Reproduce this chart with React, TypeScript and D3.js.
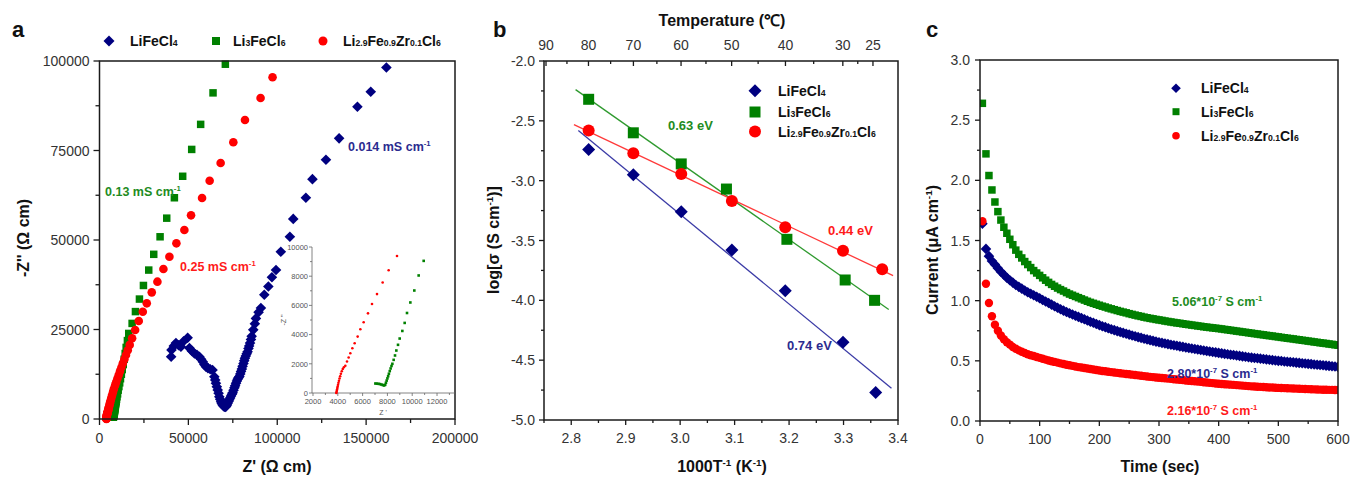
import React from 'react';
import * as d3 from 'd3';

const FONT = "'Liberation Sans', Arial, Helvetica, sans-serif";
const NAVY = '#000080';
const GREEN = '#008000';
const RED = '#ff0000';
const AXIS = '#1a1a1a';
const TICKTXT = '#333333';

// ---- panel a : impedance (Z', -Z'') ----
const eisLiFeCl4: [number, number][] = [
  [40300, 17400], [40500, 19300], [41800, 20400], [43000, 21200], [44500, 20600], [45800, 20200],
  [47300, 21700], [49600, 22700], [50600, 19800], [52000, 19000], [53400, 18300], [54800, 17900],
  [56200, 17400], [57200, 16700], [58100, 16000], [59000, 15200], [59900, 14600], [61000, 14200],
  [62300, 13900], [63600, 13700], [64600, 11800], [65100, 10900], [65500, 10000], [66000, 9000],
  [66500, 8100], [67000, 7200], [67400, 6200], [67900, 5500], [68400, 4800], [68800, 4300],
  [69300, 3900], [69800, 3600], [70300, 3450], [70800, 3400], [71200, 3500], [71700, 3900],
  [72100, 4400], [72600, 4900], [73000, 5400], [73500, 5900], [74000, 6400], [74500, 6900],
  [74900, 7300], [75400, 8000], [75900, 8700], [76300, 9300], [76800, 10000], [77300, 10600],
  [77700, 11100], [78200, 11500], [78700, 11900], [79200, 12600], [79600, 13300], [80100, 14000],
  [80500, 14700], [81000, 15500], [81400, 16300], [81800, 17000], [82300, 17600], [82800, 18200],
  [83300, 18800], [83800, 19700], [84200, 20400], [84700, 21200], [85200, 22200], [85600, 23100],
  [86500, 24900], [87400, 26600], [88000, 28100], [89500, 29800], [90800, 31000], [92700, 34700],
  [95000, 37000], [97000, 39600], [99300, 41600], [102000, 46700], [107100, 50900], [109000, 55900],
  [116100, 61800], [119800, 67000], [127400, 72400], [134800, 78400], [145100, 87200], [152600, 91400],
  [161400, 98200],
];
const eisLi3FeCl6: [number, number][] = [
  [7030, 650], [7150, 640], [7280, 630], [7400, 610], [7520, 580], [7630, 545], [7730, 515],
  [7820, 560], [7880, 700], [7940, 850], [8000, 1000], [8060, 1150], [8120, 1320], [8190, 1500],
  [8260, 1680], [8330, 1850], [8400, 2000], [8505, 2270], [8613, 2570], [8720, 2910], [8855, 3300],
  [8989, 3730], [9204, 4250], [9392, 4800], [9580, 5480], [9850, 6200], [10170, 7020], [10520, 8050],
  [10925, 9050], [11350, 10100], [11800, 11250], [12300, 12500], [12800, 13800], [13350, 15200],
  [13900, 16700], [14450, 18300], [15000, 20000], [15700, 21900], [16460, 23900], [18350, 26700],
  [20220, 30000], [22470, 33500], [24720, 37300], [27700, 41600], [30510, 46000], [34080, 50900],
  [37820, 56100], [42130, 61800], [46800, 67800], [51870, 75300], [56910, 82300], [63870, 91100],
  [70800, 99100],
];
const eisLiFeZrCl: [number, number][] = [
  [3880, 0], [3900, 70], [3920, 150], [3940, 240], [3965, 340], [3990, 450], [4020, 570],
  [4055, 700], [4095, 840], [4140, 990], [4190, 1150], [4250, 1320], [4320, 1490], [4400, 1640],
  [4490, 1760], [4608, 1864], [4742, 2159], [4876, 2432], [5010, 2727], [5172, 3068], [5360, 3409],
  [5602, 3864], [5817, 4364], [6086, 4841], [6435, 5455], [6758, 6091], [7161, 6773], [7618, 7568],
  [8100, 8409], [8774, 9386], [9400, 10300], [10100, 11300], [10800, 12300], [11500, 13300],
  [12300, 14400], [13100, 15500], [14000, 16700], [14900, 17900], [15900, 19200], [17000, 20700],
  [18350, 22540], [20060, 24860], [22080, 27370], [24350, 29970], [26600, 32310], [29400, 35380],
  [32580, 38360], [35960, 41900], [39330, 45340], [43260, 49070], [47750, 52790], [51500, 56890],
  [57700, 61730], [61970, 66570], [68150, 71510], [75280, 77290], [81840, 83520], [90620, 89660],
  [97360, 95450],
];
const aTicksX = [0, 50000, 100000, 150000, 200000];
const aMinorX = [25000, 75000, 125000, 175000];
const aTicksY = [0, 25000, 50000, 75000, 100000];
const aMinorY = [12500, 37500, 62500, 87500];
const insetTicksX = [2000, 4000, 6000, 8000, 10000, 12000];
const insetMinorX = [3000, 5000, 7000, 9000, 11000, 13000];
const insetTicksY = [0, 2000, 4000, 6000, 8000, 10000];
const insetMinorY = [1000, 3000, 5000, 7000, 9000];

// ---- panel b : Arrhenius ----
const invTLiFeCl4 = [2.832, 2.914, 3.002, 3.095, 3.193, 3.299, 3.359];
const logSigmaLiFeCl4 = [-2.74, -2.95, -3.26, -3.58, -3.92, -4.35, -4.77];
const invTLi3FeCl6 = [2.832, 2.914, 3.002, 3.085, 3.196, 3.303, 3.357];
const logSigmaLi3FeCl6 = [-2.32, -2.6, -2.86, -3.07, -3.49, -3.83, -4.0];
const invTLiFeZrCl = [2.832, 2.914, 3.002, 3.095, 3.193, 3.299, 3.371];
const logSigmaLiFeZrCl = [-2.58, -2.77, -2.945, -3.17, -3.39, -3.586, -3.74];
const fitSpanLiFeCl4 = [2.813, 3.388];
const fitSpanLi3FeCl6 = [2.808, 3.383];
const fitSpanLiFeZrCl = [2.805, 3.391];
const bTicksX = [2.8, 2.9, 3.0, 3.1, 3.2, 3.3, 3.4];
const bMinorX = [2.75, 2.85, 2.95, 3.05, 3.15, 3.25, 3.35];
const bTicksY = [-5, -4.5, -4, -3.5, -3, -2.5, -2];
const bMinorY = [-4.75, -4.25, -3.75, -3.25, -2.75, -2.25];
const tempTicks = [90, 80, 70, 60, 50, 40, 30, 25];
const tempMinor = [85, 75, 65, 55, 45, 35, 27.5];

// ---- panel c : DC polarisation ----
const timeSec = [
  4, 10, 15, 20, 25, 30, 35, 40, 45, 50, 55, 60, 65, 70, 75, 80, 85, 90, 95, 100,
  105, 110, 115, 120, 125, 130, 135, 140, 145, 150, 155, 160, 165, 170, 175, 180, 185, 190, 195, 200,
  205, 210, 215, 220, 225, 230, 235, 240, 245, 250, 255, 260, 265, 270, 275, 280, 285, 290, 295, 300,
  305, 310, 315, 320, 325, 330, 335, 340, 345, 350, 355, 360, 365, 370, 375, 380, 385, 390, 395, 400,
  405, 410, 415, 420, 425, 430, 435, 440, 445, 450, 455, 460, 465, 470, 475, 480, 485, 490, 495, 500,
  505, 510, 515, 520, 525, 530, 535, 540, 545, 550, 555, 560, 565, 570, 575, 580, 585, 590, 595, 600,
];
const currentLi3FeCl6 = [
  2.64, 2.22, 2.04, 1.92, 1.82, 1.74, 1.67, 1.61, 1.56, 1.51, 1.465, 1.42, 1.385, 1.355, 1.325, 1.3, 1.275, 1.25, 1.23, 1.21,
  1.19, 1.17, 1.152, 1.135, 1.12, 1.105, 1.092, 1.08, 1.067, 1.055, 1.045, 1.035, 1.025, 1.015, 1.005, 0.995, 0.986, 0.978, 0.97, 0.962,
  0.954, 0.947, 0.939, 0.932, 0.925, 0.918, 0.911, 0.905, 0.899, 0.892, 0.886, 0.88, 0.874, 0.869, 0.863, 0.858, 0.853, 0.849, 0.844, 0.84,
  0.836, 0.831, 0.827, 0.823, 0.819, 0.815, 0.812, 0.808, 0.804, 0.801, 0.797, 0.794, 0.79, 0.787, 0.783, 0.78, 0.777, 0.774, 0.771, 0.768,
  0.765, 0.761, 0.758, 0.754, 0.751, 0.747, 0.744, 0.74, 0.737, 0.733, 0.73, 0.726, 0.723, 0.719, 0.716, 0.712, 0.709, 0.706, 0.702, 0.699,
  0.695, 0.692, 0.688, 0.685, 0.682, 0.678, 0.675, 0.671, 0.668, 0.664, 0.661, 0.657, 0.654, 0.65, 0.647, 0.644, 0.64, 0.637, 0.633, 0.63,
];
const currentLiFeCl4 = [
  1.64, 1.43, 1.37, 1.33, 1.3, 1.27, 1.24, 1.215, 1.19, 1.17, 1.15, 1.13, 1.115, 1.1, 1.085, 1.07, 1.057, 1.045, 1.032, 1.02,
  1.006, 0.993, 0.98, 0.967, 0.954, 0.941, 0.929, 0.917, 0.906, 0.895, 0.885, 0.875, 0.865, 0.855, 0.845, 0.835, 0.825, 0.816, 0.806, 0.797,
  0.788, 0.78, 0.771, 0.763, 0.755, 0.747, 0.739, 0.732, 0.725, 0.718, 0.711, 0.704, 0.697, 0.691, 0.684, 0.678, 0.672, 0.666, 0.66, 0.654,
  0.649, 0.644, 0.639, 0.634, 0.629, 0.625, 0.62, 0.616, 0.611, 0.607, 0.602, 0.598, 0.594, 0.59, 0.586, 0.582, 0.578, 0.574, 0.57, 0.566,
  0.562, 0.558, 0.555, 0.551, 0.548, 0.544, 0.541, 0.537, 0.534, 0.53, 0.527, 0.524, 0.521, 0.518, 0.515, 0.512, 0.509, 0.506, 0.503, 0.5,
  0.498, 0.495, 0.493, 0.49, 0.488, 0.485, 0.483, 0.48, 0.478, 0.475, 0.473, 0.47, 0.468, 0.465, 0.463, 0.46, 0.458, 0.455, 0.453, 0.45,
];
const currentLiFeZrCl = [
  1.66, 1.14, 0.98, 0.87, 0.8, 0.75, 0.71, 0.68, 0.655, 0.635, 0.615, 0.6, 0.587, 0.575, 0.565, 0.555, 0.547, 0.54, 0.532, 0.525,
  0.517, 0.51, 0.503, 0.497, 0.491, 0.485, 0.479, 0.474, 0.468, 0.463, 0.458, 0.453, 0.448, 0.444, 0.44, 0.436, 0.432, 0.428, 0.424, 0.42,
  0.416, 0.413, 0.409, 0.406, 0.403, 0.4, 0.397, 0.394, 0.391, 0.388, 0.385, 0.382, 0.379, 0.376, 0.373, 0.37, 0.367, 0.365, 0.362, 0.36,
  0.357, 0.355, 0.352, 0.35, 0.347, 0.345, 0.342, 0.34, 0.337, 0.335, 0.332, 0.33, 0.327, 0.325, 0.322, 0.32, 0.317, 0.315, 0.312, 0.31,
  0.308, 0.306, 0.304, 0.302, 0.3, 0.298, 0.296, 0.294, 0.292, 0.29, 0.288, 0.287, 0.285, 0.284, 0.282, 0.281, 0.279, 0.278, 0.276, 0.275,
  0.274, 0.273, 0.272, 0.271, 0.27, 0.269, 0.268, 0.267, 0.266, 0.265, 0.264, 0.263, 0.262, 0.261, 0.26, 0.26, 0.259, 0.259, 0.258, 0.258,
];
const cTicksX = [0, 100, 200, 300, 400, 500, 600];
const cMinorX = [50, 150, 250, 350, 450, 550];
const cTicksY = [0, 0.5, 1, 1.5, 2, 2.5, 3];
const cMinorY = [0.25, 0.75, 1.25, 1.75, 2.25, 2.75];

type Part = [string, 'n' | 'sub' | 'sup'];
const nameLiFeCl4: Part[] = [['LiFeCl', 'n'], ['4', 'sub']];
const nameLi3FeCl6: Part[] = [['Li', 'n'], ['3', 'sub'], ['FeCl', 'n'], ['6', 'sub']];
const nameLiFeZrCl: Part[] = [
  ['Li', 'n'], ['2.9', 'sub'], ['Fe', 'n'], ['0.9', 'sub'], ['Zr', 'n'], ['0.1', 'sub'], ['Cl', 'n'], ['6', 'sub'],
];

function Rich({ parts, x, y, size, color = '#111', weight = 'bold', anchor = 'start', transform }: any) {
  let shift = 0;
  return (
    <text x={x} y={y} fontSize={size} fontWeight={weight} fill={color} textAnchor={anchor}
      transform={transform} fontFamily={FONT}>
      {parts.map(([t, k]: Part, i: number) => {
        const target = k === 'sup' ? -size * 0.4 : 0;
        const dy = target - shift;
        shift = target;
        return (
          <tspan key={i} dy={dy || undefined} fontSize={k === 'n' ? size : size * 0.62}>{t}</tspan>
        );
      })}
    </text>
  );
}

const sqPath = (side: number) => d3.symbol(d3.symbolSquare, side * side)() as string;
const diaPath = (half: number) => d3.symbol(d3.symbolSquare, 2 * half * half)() as string;

function Marker({ kind, x, y, s, color }: any) {
  if (kind === 'circle') return <circle cx={x} cy={y} r={s} fill={color} />;
  if (kind === 'square') return <path d={sqPath(s)} transform={`translate(${x},${y})`} fill={color} />;
  return <path d={diaPath(s)} transform={`translate(${x},${y}) rotate(45)`} fill={color} />;
}

function Ticks({ scale, at, vals, minor = [], orient, len = 5, mlen = 3, fmt, fs = 14, gap = 8,
  color = TICKTXT, sw = 1.3, inward = false }: any) {
  const out = inward ? -1 : 1;
  return (
    <g fontFamily={FONT} fontSize={fs} fill={color}>
      {vals.map((v: number, i: number) => {
        const p = scale(v);
        if (orient === 'bottom') return (
          <g key={'M' + i}>
            <line x1={p} x2={p} y1={at} y2={at + out * len} stroke={AXIS} strokeWidth={sw} />
            {fmt && <text x={p} y={at + gap + fs * 0.72} textAnchor="middle">{fmt(v, i)}</text>}
          </g>
        );
        if (orient === 'left') return (
          <g key={'M' + i}>
            <line y1={p} y2={p} x1={at} x2={at - out * len} stroke={AXIS} strokeWidth={sw} />
            {fmt && <text x={at - gap} y={p + fs * 0.36} textAnchor="end">{fmt(v, i)}</text>}
          </g>
        );
        return (
          <g key={'M' + i}>
            <line x1={p} x2={p} y1={at} y2={at - out * len} stroke={AXIS} strokeWidth={sw} />
            {fmt && <text x={p} y={at - gap} textAnchor="middle">{fmt(v, i)}</text>}
          </g>
        );
      })}
      {minor.map((v: number, i: number) => {
        const p = scale(v);
        if (orient === 'bottom')
          return <line key={'m' + i} x1={p} x2={p} y1={at} y2={at + out * mlen} stroke={AXIS} strokeWidth={sw} />;
        if (orient === 'left')
          return <line key={'m' + i} y1={p} y2={p} x1={at} x2={at - out * mlen} stroke={AXIS} strokeWidth={sw} />;
        return <line key={'m' + i} x1={p} x2={p} y1={at} y2={at - out * mlen} stroke={AXIS} strokeWidth={sw} />;
      })}
    </g>
  );
}

function Frame({ x, y }: any) {
  const [x0, x1] = x.range();
  const [y1, y0] = y.range();
  return <rect x={x0} y={y0} width={x1 - x0} height={y1 - y0} fill="none" stroke={AXIS} strokeWidth={1.5} />;
}

function PanelA() {
  const x = d3.scaleLinear().domain([0, 200000]).range([99.5, 455]);
  const y = d3.scaleLinear().domain([0, 100000]).range([419, 61]);
  const ix = d3.scaleLinear().domain([1920, 13450]).range([312, 455]);
  const iy = d3.scaleLinear().domain([0, 10000]).range([393, 247]);
  const inInset = (d: [number, number]) => d[0] >= 1920 && d[0] <= 13450 && d[1] <= 10000;
  const series = [
    { data: eisLiFeCl4, kind: 'diamond', s: 5.3, color: NAVY, name: nameLiFeCl4, lx: 109, tx: 130 },
    { data: eisLi3FeCl6, kind: 'square', s: 7.5, color: GREEN, name: nameLi3FeCl6, lx: 216, tx: 233 },
    { data: eisLiFeZrCl, kind: 'circle', s: 4.3, color: RED, name: nameLiFeZrCl, lx: 323, tx: 343 },
  ];
  const inkGray = '#555';
  return (
    <g>
      <text x={12} y={37} fontFamily={FONT} fontWeight="bold" fontSize={22} fill="#111">a</text>
      {series.map((sr, k) => (
        <g key={k}>
          <Marker kind={sr.kind} x={sr.lx} y={41} s={sr.kind === 'square' ? 8 : sr.kind === 'circle' ? 4.5 : 5.5} color={sr.color} />
          <Rich parts={sr.name} x={sr.tx} y={46} size={14} />
        </g>
      ))}
      <Ticks scale={x} at={419} vals={aTicksX} minor={aMinorX} orient="bottom" fmt={(v: number) => String(v)} gap={14} len={6} mlen={4} />
      <Ticks scale={y} at={99.5} vals={aTicksY} minor={aMinorY} orient="left" fmt={(v: number) => String(v)} gap={10} len={6} mlen={4} />
      {series.map((sr, k) => (
        <g key={'s' + k}>
          {sr.data.map((d, i) => <Marker key={i} kind={sr.kind} x={x(d[0])} y={y(d[1])} s={sr.s} color={sr.color} />)}
        </g>
      ))}
      <Frame x={x} y={y} />
      {/* inset */}
      <line x1={312} x2={455} y1={393} y2={393} stroke="#666" strokeWidth={0.8} />
      <line x1={312} x2={312} y1={247} y2={393} stroke="#666" strokeWidth={0.8} />
      <g fontFamily={FONT} fontSize={7.5}>
        {insetTicksX.map((v) => (
          <g key={'ix' + v}>
            <line x1={ix(v)} x2={ix(v)} y1={393} y2={396} stroke="#666" strokeWidth={0.8} />
            <text x={ix(v)} y={404} textAnchor="middle" fill={inkGray}>{v}</text>
          </g>
        ))}
        {insetMinorX.map((v) => <line key={'imx' + v} x1={ix(v)} x2={ix(v)} y1={393} y2={395} stroke="#666" strokeWidth={0.8} />)}
        {insetTicksY.map((v) => (
          <g key={'iy' + v}>
            <line x1={309} x2={312} y1={iy(v)} y2={iy(v)} stroke="#666" strokeWidth={0.8} />
            <text x={308} y={iy(v) + 2.7} textAnchor="end" fill={inkGray}>{v}</text>
          </g>
        ))}
        {insetMinorY.map((v) => <line key={'imy' + v} x1={310} x2={312} y1={iy(v)} y2={iy(v)} stroke="#666" strokeWidth={0.8} />)}
        <text x={383} y={415} textAnchor="middle" fontSize={7} fill={inkGray}>Z '</text>
        <text transform="translate(286,320) rotate(-90)" textAnchor="middle" fontSize={7} fill={inkGray}>-Z ''</text>
      </g>
      {eisLiFeZrCl.filter(inInset).map((d, i) => <circle key={'ir' + i} cx={ix(d[0])} cy={iy(d[1])} r={1.3} fill={RED} />)}
      {eisLi3FeCl6.filter(inInset).map((d, i) => <Marker key={'ig' + i} kind="square" x={ix(d[0])} y={iy(d[1])} s={2.6} color={GREEN} />)}
      {/* annotations */}
      <Rich parts={[['0.13 mS cm', 'n'], ['-1', 'sup']]} x={105} y={196} size={12.5} color="#1e8c1e" />
      <Rich parts={[['0.014 mS cm', 'n'], ['-1', 'sup']]} x={348} y={151} size={12.5} color="#2b2b8f" />
      <Rich parts={[['0.25 mS cm', 'n'], ['-1', 'sup']]} x={180} y={271} size={12.5} color="#ff1a1a" />
      <Rich parts={[["Z' (\u03a9 cm)", 'n']]} x={277} y={472} size={16} anchor="middle" />
      <Rich parts={[["-Z'' (\u03a9 cm)", 'n']]} x={0} y={0} size={16} anchor="middle"
        transform="translate(29,238) rotate(-90)" />
    </g>
  );
}

function fitLine(xs: number[], ys: number[]) {
  const mx = d3.mean(xs) as number;
  const my = d3.mean(ys) as number;
  const sxy = d3.sum(xs, (v, i) => (v - mx) * (ys[i] - my));
  const sxx = d3.sum(xs, (v) => (v - mx) ** 2);
  const k = sxy / sxx;
  return (v: number) => my + k * (v - mx);
}

function PanelB() {
  const x = d3.scaleLinear().domain([2.75, 3.4]).range([544, 898]);
  const y = d3.scaleLinear().domain([-5, -2]).range([420, 61]);
  const series = [
    { xs: invTLiFeCl4, ys: logSigmaLiFeCl4, span: fitSpanLiFeCl4, kind: 'diamond', s: 6.5, color: NAVY, line: '#3b3ba6', name: nameLiFeCl4 },
    { xs: invTLi3FeCl6, ys: logSigmaLi3FeCl6, span: fitSpanLi3FeCl6, kind: 'square', s: 11, color: GREEN, line: '#2f9a2f', name: nameLi3FeCl6 },
    { xs: invTLiFeZrCl, ys: logSigmaLiFeZrCl, span: fitSpanLiFeZrCl, kind: 'circle', s: 6, color: RED, line: '#ff3a3a', name: nameLiFeZrCl },
  ];
  const line = d3.line<number>().x((v) => x(v));
  const legY = [90.7, 112, 131.5];
  return (
    <g>
      <text x={493} y={37} fontFamily={FONT} fontWeight="bold" fontSize={22} fill="#111">b</text>
      <Ticks scale={x} at={420} vals={bTicksX} minor={bMinorX} orient="bottom" fmt={(v: number) => v.toFixed(1)} gap={13} len={5} mlen={3} />
      <Ticks scale={y} at={544} vals={bTicksY} minor={bMinorY} orient="left" fmt={(v: number) => v.toFixed(1)} gap={9} len={5} mlen={3} />
      <Ticks scale={(t: number) => x(1000 / (t + 273.15))} at={61} vals={tempTicks} minor={tempMinor} orient="top"
        fmt={(v: number) => String(v)} gap={11} len={5} mlen={3} inward />
      <Rich parts={[['Temperature (\u2103)', 'n']]} x={722} y={26} size={16} anchor="middle" />
      {series.map((sr, k) => {
        const f = fitLine(sr.xs, sr.ys);
        const d = line.y((v) => y(f(v)))(sr.span) as string;
        return <path key={'l' + k} d={d} fill="none" stroke={sr.line} strokeWidth={1.3} />;
      })}
      {series.map((sr, k) => (
        <g key={'p' + k}>
          {sr.xs.map((v, i) => <Marker key={i} kind={sr.kind} x={x(v)} y={y(sr.ys[i])} s={sr.s} color={sr.color} />)}
        </g>
      ))}
      <Frame x={x} y={y} />
      {series.map((sr, k) => (
        <g key={'g' + k}>
          <Marker kind={sr.kind} x={755} y={legY[k]} s={sr.kind === 'circle' ? 6 : sr.kind === 'square' ? 11 : 6.5} color={sr.color} />
          <Rich parts={sr.name} x={778} y={legY[k] + 5} size={14} />
        </g>
      ))}
      <Rich parts={[['0.63 eV', 'n']]} x={668} y={130} size={13} color="#1e8c1e" />
      <Rich parts={[['0.44 eV', 'n']]} x={828} y={235} size={13} color="#ff1a1a" />
      <Rich parts={[['0.74 eV', 'n']]} x={787} y={350} size={13} color="#2b2b8f" />
      <Rich parts={[['1000T', 'n'], ['-1', 'sup'], [' (K', 'n'], ['-1', 'sup'], [')', 'n']]} x={722} y={472} size={16} anchor="middle" />
      <Rich parts={[['log[\u03c3 (S cm', 'n'], ['-1', 'sup'], [')]', 'n']]} x={0} y={0} size={16} anchor="middle"
        transform="translate(499,240) rotate(-90)" />
    </g>
  );
}

function PanelC() {
  const x = d3.scaleLinear().domain([0, 600]).range([980, 1338]);
  const y = d3.scaleLinear().domain([0, 3]).range([421, 60]);
  const series = [
    { ys: currentLi3FeCl6, kind: 'square', s: 7.5, color: GREEN },
    { ys: currentLiFeCl4, kind: 'diamond', s: 5.3, color: NAVY },
    { ys: currentLiFeZrCl, kind: 'circle', s: 4.2, color: RED },
  ];
  const legend = [
    { kind: 'diamond', s: 4.8, color: NAVY, name: nameLiFeCl4, y: 88.3 },
    { kind: 'square', s: 7, color: GREEN, name: nameLi3FeCl6, y: 111.7 },
    { kind: 'circle', s: 3.8, color: RED, name: nameLiFeZrCl, y: 135.7 },
  ];
  return (
    <g>
      <text x={926} y={37} fontFamily={FONT} fontWeight="bold" fontSize={22} fill="#111">c</text>
      <Ticks scale={x} at={421} vals={cTicksX} minor={cMinorX} orient="bottom" fmt={(v: number) => String(v)} gap={13} len={5} mlen={3} />
      <Ticks scale={y} at={980} vals={cTicksY} minor={cMinorY} orient="left" fmt={(v: number) => v.toFixed(1)} gap={10} len={5} mlen={3} />
      <defs>
        <clipPath id="clipC"><rect x={980} y={60} width={358} height={361} /></clipPath>
      </defs>
      <g clipPath="url(#clipC)">
        {series.map((sr, k) => (
          <g key={k}>
            {timeSec.map((t, i) => (i < sr.ys.length
              ? <Marker key={i} kind={sr.kind} x={x(t)} y={y(sr.ys[i])} s={sr.s} color={sr.color} />
              : null))}
          </g>
        ))}
      </g>
      <Frame x={x} y={y} />
      {legend.map((lg, k) => (
        <g key={'g' + k}>
          <Marker kind={lg.kind} x={1176} y={lg.y} s={lg.s} color={lg.color} />
          <Rich parts={lg.name} x={1201} y={lg.y + 5} size={14} />
        </g>
      ))}
      <Rich parts={[['5.06*10', 'n'], ['-7', 'sup'], [' S cm', 'n'], ['-1', 'sup']]} x={1172} y={306} size={12.5} color="#1e8c1e" />
      <Rich parts={[['2.80*10', 'n'], ['-7', 'sup'], ['  S cm', 'n'], ['-1', 'sup']]} x={1167} y={378} size={12.5} color="#2b2b8f" />
      <Rich parts={[['2.16*10', 'n'], ['-7', 'sup'], ['  S cm', 'n'], ['-1', 'sup']]} x={1167} y={415} size={12.5} color="#ff1a1a" />
      <Rich parts={[['Time (sec)', 'n']]} x={1160} y={472} size={16} anchor="middle" />
      <Rich parts={[['Current (\u03bcA cm', 'n'], ['-1', 'sup'], [')', 'n']]} x={0} y={0} size={16} anchor="middle"
        transform="translate(938,250) rotate(-90)" />
    </g>
  );
}

export default function App() {
  return (
    <svg width={1351} height={479} viewBox="0 0 1351 479"
      style={{ position: 'absolute', left: 0, top: 0, background: '#fff', display: 'block' }}>
      <rect width={1351} height={479} fill="#fff" />
      <PanelA />
      <PanelB />
      <PanelC />
    </svg>
  );
}
